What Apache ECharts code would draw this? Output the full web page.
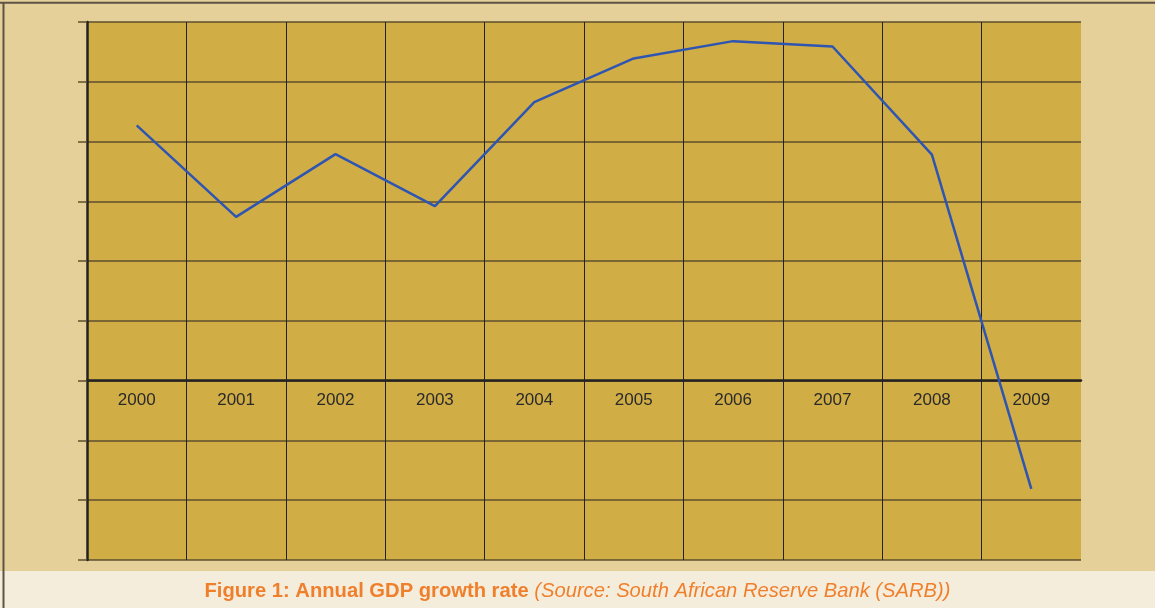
<!DOCTYPE html>
<html>
<head>
<meta charset="utf-8">
<script src="https://cdn.jsdelivr.net/npm/echarts@6/dist/echarts.min.js"></script>
<style>html,body{margin:0;padding:0;background:#E5D09A;}#c{width:1155px;height:608px;}</style>
</head>
<body>
<div id="c"></div>
<script>
const years = ['2000','2001','2002','2003','2004','2005','2006','2007','2008','2009'];
const gdpGrowth = [4.27, 2.74, 3.79, 2.92, 4.66, 5.39, 5.68, 5.59, 3.78, -1.81];
const yMin = -3, yMax = 6, yStep = 1;
const captionBold = 'Figure 1: Annual GDP growth rate';
const captionItalic = '(Source: South African Reserve Bank (SARB))';

const W = 1155, H = 608;
const gridTop = 22, gridBottom = 48;
const gridH = H - gridTop - gridBottom;
const zeroOffset = -((0 - yMin) / (yMax - yMin)) * gridH;

const chart = echarts.init(document.getElementById('c'), null, {renderer: 'canvas'});
chart.setOption({
  backgroundColor: '#E5D09A',
  animation: false,
  grid: {left: 87, right: 74, top: gridTop, bottom: gridBottom, show: true, backgroundColor: '#D0AD45', borderWidth: 0},
  xAxis: {
    type: 'category', data: years, boundaryGap: true,
    position: 'bottom', offset: zeroOffset,
    axisLine: {onZero: false, lineStyle: {color: '#222', width: 2.5}},
    axisTick: {show: false},
    axisLabel: {color: '#2a2a2a', fontFamily: 'Liberation Sans, Arial, sans-serif', fontSize: 17, margin: 11},
    splitLine: {show: true, showMinLine: false, showMaxLine: false, lineStyle: {color: '#222', width: 1}}
  },
  yAxis: {
    type: 'value', min: yMin, max: yMax, interval: yStep,
    axisLine: {show: true, lineStyle: {color: '#222', width: 2.5}},
    axisTick: {show: true, length: 9, lineStyle: {color: '#5e4f2c', width: 1.5}},
    axisLabel: {show: false},
    splitLine: {show: true, lineStyle: {color: '#5e4f2c', width: 1.5}}
  },
  series: [{
    type: 'line', data: gdpGrowth, showSymbol: false, symbol: 'none',
    lineStyle: {color: '#2E55B2', width: 2.5}, z: 5
  }],
  graphic: [
    {type: 'rect', shape: {x: 0, y: 571, width: W, height: 37}, style: {fill: '#F5EDDC'}, z: -1},
    {type: 'line', shape: {x1: 0, y1: 2.8, x2: W, y2: 2.8}, style: {stroke: '#5E5445', lineWidth: 2}},
    {type: 'line', shape: {x1: 3.5, y1: 2, x2: 3.5, y2: H}, style: {stroke: '#5E5445', lineWidth: 2}},
    {type: 'text', left: 'center', top: 581,
      style: {
        text: '{b|' + captionBold + ' }{i|' + captionItalic + '}',
        rich: {
          b: {fontFamily: 'Liberation Sans, Arial, sans-serif', fontWeight: 'bold', fontSize: 20.2, fill: '#F07F2C', color: '#F07F2C'},
          i: {fontFamily: 'Liberation Sans, Arial, sans-serif', fontStyle: 'italic', fontSize: 20.2, fill: '#F07F2C', color: '#F07F2C'}
        }
      }
    }
  ]
});
</script>
</body>
</html>
